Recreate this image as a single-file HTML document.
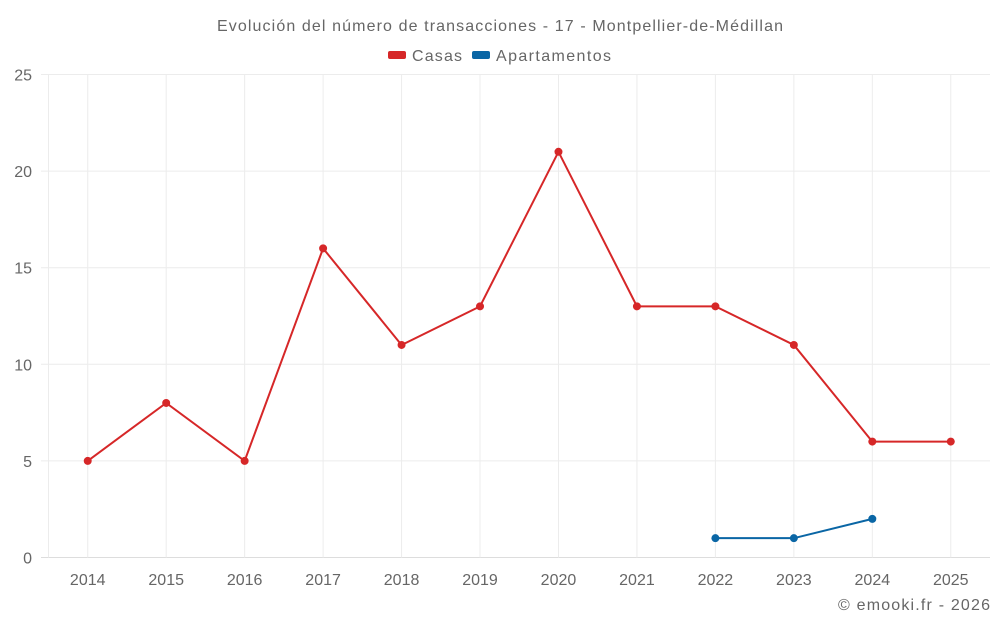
<!DOCTYPE html>
<html><head><meta charset="utf-8"><style>
body{margin:0;background:#fff;}
svg{display:block;font-family:"Liberation Sans",sans-serif;}
</style></head><body>
<svg id="c" width="1000" height="625">
<text x="500" y="31" text-anchor="middle" font-size="16" fill="#666" textLength="566">Evolución del número de transacciones - 17 - Montpellier-de-Médillan</text>
<g><rect x="388" y="51" width="18" height="8" rx="2" fill="#d62728"/><text x="412" y="61" font-size="16" fill="#666" textLength="50">Casas</text></g>
<g><rect x="472" y="51" width="18" height="8" rx="2" fill="#0a66a5"/><text x="496" y="61" font-size="16" fill="#666" textLength="115">Apartamentos</text></g>
<g id="grid"></g><g id="axes"></g><g id="series"></g>
<text x="990" y="610" text-anchor="end" font-size="16" fill="#666" textLength="152">© emooki.fr - 2026</text>
</svg>
<script>
const categories=["2014","2015","2016","2017","2018","2019","2020","2021","2022","2023","2024","2025"];
const casas=[5,8,5,16,11,13,21,13,13,11,6,6];
const apartamentos=[null,null,null,null,null,null,null,null,1,1,2,null];
const yTicks=[0,5,10,15,20,25];
const L=48.5,R=990,T=74.5,B=557.5,yMax=25;
const bw=(R-L)/categories.length;
const xS=i=>L+bw*(i+0.5);
const yS=v=>B-(v/yMax)*(B-T);
const NS="http://www.w3.org/2000/svg";
function mk(tag,attrs,parent){const e=document.createElementNS(NS,tag);for(const k in attrs)e.setAttribute(k,attrs[k]);parent.appendChild(e);return e;}
const grid=document.getElementById('grid'),axes=document.getElementById('axes'),ser=document.getElementById('series');
yTicks.forEach(t=>{
 const l=mk('line',{x1:41,x2:R,y1:yS(t),y2:yS(t),stroke:t===0?'#ddd':'#ececec','stroke-width':1},grid);
 
 
 const tx=mk('text',{x:32,y:yS(t)+6,'text-anchor':'end','font-size':16,fill:'#666'},axes);
 tx.textContent=t;
 
 
});
const ax=mk('line',{x1:L,x2:L,y1:T,y2:B,stroke:'#ececec'},grid);


categories.forEach((c,i)=>{
 const l=mk('line',{x1:xS(i),x2:xS(i),y1:T,y2:B,stroke:'#ececec'},grid);
 
 
 const tx=mk('text',{x:xS(i),y:585,'text-anchor':'middle','font-size':16,fill:'#666'},axes);
 tx.textContent=c;
 
 
});
function draw(vals,color,name){
 let d='';let pen=false;
 vals.forEach((v,i)=>{if(v==null){pen=false;return;}d+=(pen?'L':'M')+xS(i)+','+yS(v);pen=true;});
 const p=mk('path',{d:d,fill:'none',stroke:color,'stroke-width':2},ser);
 
 
 vals.forEach((v,i)=>{if(v==null)return;
  const c=mk('circle',{cx:xS(i),cy:yS(v),r:4,fill:color},ser);
  
  
 });
}
draw(casas,'#d62728','casas');
draw(apartamentos,'#0a66a5','apartamentos');
</script>
</body></html>
